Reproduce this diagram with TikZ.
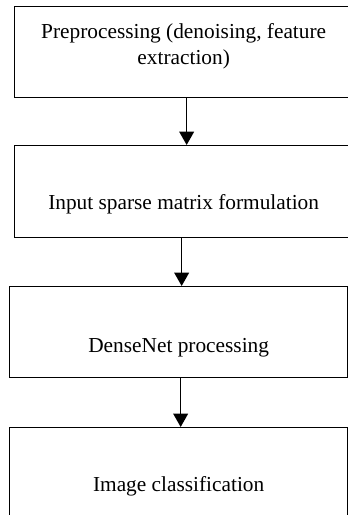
\documentclass[tikz,border=0pt]{standalone}
\usepackage{fontspec}
\setmainfont{Liberation Serif}
\usepackage{tikz}
\usetikzlibrary{arrows.meta,positioning}

\begin{document}
\begin{tikzpicture}[x=0.75pt,y=-0.75pt,
    stepbox/.style={draw, line width=1pt, inner sep=0pt, anchor=north west,
        minimum width=253.5pt, align=center, font=\fontsize{16}{19.5}\selectfont},
    arr/.style={-{Triangle[width=11pt,length=10pt]}, line width=1.2pt}]
        \useasboundingbox (0,0) rectangle (348,515);
        \clip (0,0) rectangle (348,515);

        % Preprocessing step
        \node[stepbox, text height=43.5pt, text depth=24.75pt] (pre) at (14,6)
            {Preprocessing (denoising, feature\\extraction)};

        % Sparse matrix
        \node[stepbox, text height=48pt, text depth=21pt] (mat) at (14,145)
            {Input sparse matrix formulation};

        % DenseNet
        \node[stepbox, text height=49.5pt, text depth=18.75pt] (dense) at (9,286)
            {DenseNet processing};

        % Classification
        \node[stepbox, text height=48pt, text depth=20.25pt] (cls) at (9,427)
            {Image classification};

        % Arrows between the steps
        \draw[arr] ([xshift=2.25pt]pre.south) -- ([xshift=2.25pt]pre.south |- mat.north);
        \draw[arr] ([xshift=-1.5pt]mat.south) -- ([xshift=-1.5pt]mat.south |- dense.north);
        \draw[arr] ([xshift=1.5pt]dense.south) -- ([xshift=1.5pt]dense.south |- cls.north);
    \end{tikzpicture}
\end{document}
